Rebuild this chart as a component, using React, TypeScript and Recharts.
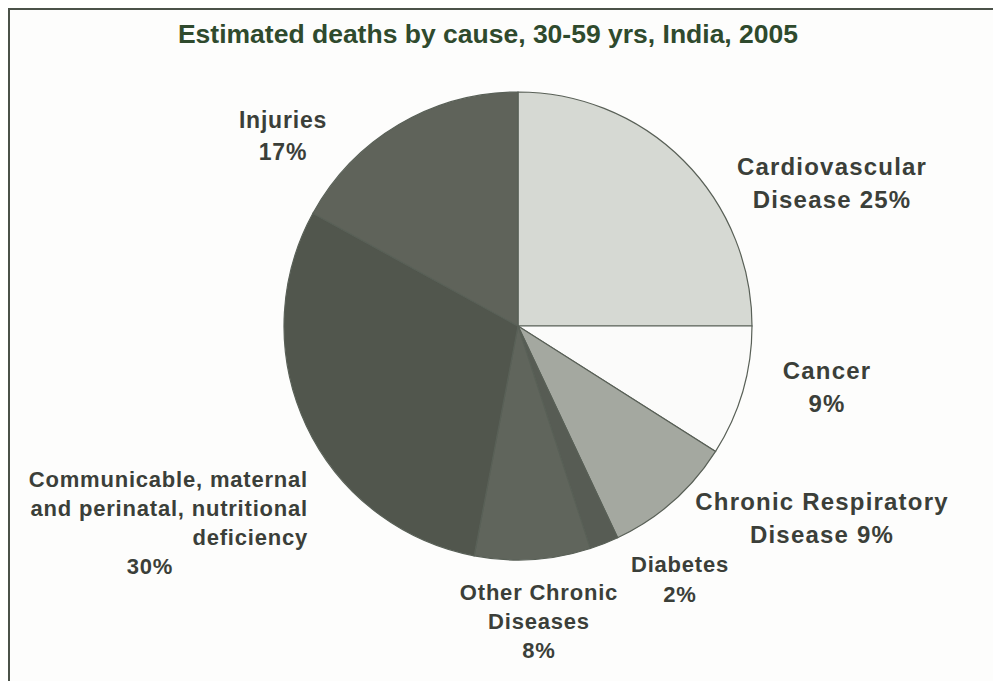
import { PieChart, Pie, Cell } from 'recharts';

const causes = [
  'Cardiovascular Disease',
  'Cancer',
  'Chronic Respiratory Disease',
  'Diabetes',
  'Other Chronic Diseases',
  'Communicable, maternal and perinatal, nutritional deficiency',
  'Injuries',
];
const shares = [25, 9, 9, 2, 8, 30, 17];
const labelLines = [
  ['Cardiovascular', 'Disease 25%'],
  ['Cancer', '9%'],
  ['Chronic Respiratory', 'Disease 9%'],
  ['Diabetes', '2%'],
  ['Other Chronic', 'Diseases', '8%'],
  ['Communicable, maternal', 'and perinatal, nutritional', 'deficiency', '30%'],
  ['Injuries', '17%'],
];

const sliceColors = ['#d6d9d3', '#fbfbfa', '#a4a8a0', '#575c54', '#60655c', '#51564d', '#5f635a'];

// label placement, offsets from the pie centre
const labelPos = [
  { dx: 314, dy: -151, anchor: 'middle', lh: 33, size: 24 },
  { dx: 309, dy: 53, anchor: 'middle', lh: 33, size: 24 },
  { dx: 304, dy: 184, anchor: 'middle', lh: 33, size: 24 },
  { dx: 162, dy: 246, anchor: 'middle', lh: 30, size: 22 },
  { dx: 21, dy: 274, anchor: 'middle', lh: 29, size: 22 },
  { dx: -210, dy: 161, anchor: 'end', lh: 29, size: 22, lastDx: -368, lastAnchor: 'middle' },
  { dx: -235, dy: -198, anchor: 'middle', lh: 32, size: 23 },
];

const data = causes.map((name, i) => ({ name, value: shares[i] }));

const font = '"Liberation Sans", Arial, sans-serif';

function renderLabel(props: any) {
  const { cx, cy, index } = props;
  const pos = labelPos[index];
  const lines = labelLines[index];
  const spacing = pos.size >= 24 ? 1.2 : 0.8;
  return (
    <g key={`lbl-${index}`}>
      {lines.map((line, j) => {
        const last = j === lines.length - 1 && pos.lastDx !== undefined;
        return (
          <text
            key={j}
            x={cx + (last ? pos.lastDx! : pos.dx)}
            y={cy + pos.dy + j * pos.lh}
            textAnchor={last ? pos.lastAnchor : pos.anchor}
            fontFamily={font}
            fontWeight="bold"
            fontSize={pos.size}
            letterSpacing={spacing}
            fill="#3b3f39"
          >
            {line}
          </text>
        );
      })}
    </g>
  );
}

export default function App() {
  return (
    <div style={{ width: 985, height: 673, background: '#fdfdfc' }}>
      <PieChart width={985} height={673} margin={{ top: 0, right: 0, bottom: 0, left: 0 }}>
        <rect x={1} y={1} width={1100} height={800} fill="none" stroke="#4b5249" strokeWidth={2} />
        <text
          x={480}
          y={35}
          textAnchor="middle"
          fontFamily={'"Liberation Sans Narrow", "Liberation Sans", Arial, sans-serif'}
          fontWeight="bold"
          fontSize={26.5}
          fill="#2f4a2d"
        >
          Estimated deaths by cause, 30-59 yrs, India, 2005
        </text>
        <Pie
          data={data}
          dataKey="value"
          nameKey="name"
          cx={510}
          cy={318}
          outerRadius={234}
          startAngle={90}
          endAngle={-270}
          stroke="#596057"
          strokeWidth={1.2}
          label={renderLabel}
          labelLine={false}
          isAnimationActive={false}
        >
          {data.map((d, i) => (
            <Cell key={d.name} fill={sliceColors[i]} />
          ))}
        </Pie>
      </PieChart>
    </div>
  );
}
